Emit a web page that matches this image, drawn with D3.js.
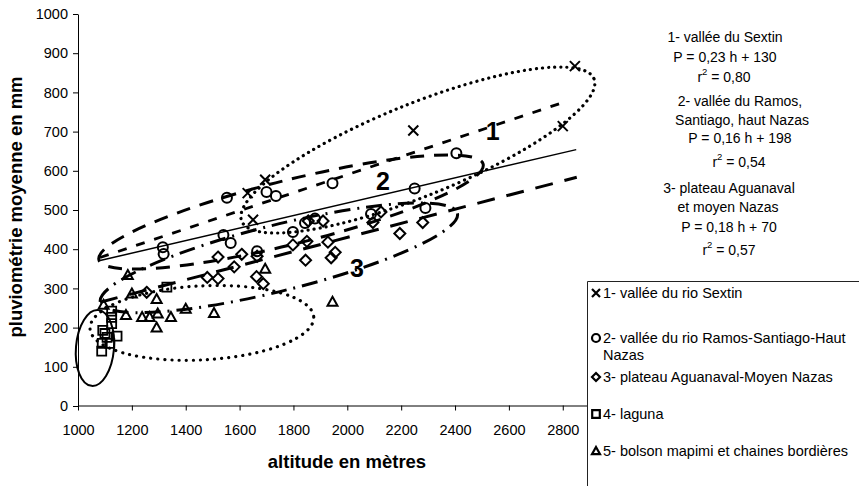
<!DOCTYPE html>
<html><head><meta charset="utf-8">
<script src="https://cdn.jsdelivr.net/npm/d3@7"></script>
<style>
body{margin:0;background:#fff}
svg{display:block}
text{font-family:"Liberation Sans",Arial,sans-serif;fill:#000}
</style>
</head><body>
<svg id="c" width="859" height="486"></svg>
<script>
// ---------- data ----------
const xTicks = [1000,1200,1400,1600,1800,2000,2200,2400,2600,2800];
const yTicks = [0,100,200,300,400,500,600,700,800,900,1000];

const sextinX = [1630,1650,1695,2245,2800,2845];
const sextinY = [543,475,577,703,714,867];

const ramosX = [1315,1318,1540,1567,1553,1700,1735,1665,1798,1843,1880,1945,2088,2250,2290,2405];
const ramosY = [405,388,436,416,531,546,536,395,444,467,478,568,490,555,505,645];

const aguaX = [1255,1480,1520,1520,1580,1608,1665,1663,1688,1798,1845,1850,1855,1910,1928,1940,1955,2095,2125,2195,2280];
const aguaY = [290,328,325,380,355,387,382,330,312,411,372,420,472,472,418,378,392,468,495,440,468];

const lagunaX = [1088,1090,1092,1100,1108,1118,1125,1125,1125,1145,1330];
const lagunaY = [140,160,193,185,175,160,210,226,242,178,303];

const bolsonX = [1095,1178,1185,1200,1238,1266,1292,1292,1296,1345,1400,1505,1695,1945];
const bolsonY = [258,232,334,287,227,227,273,200,236,227,248,237,350,266];

const legendLabels = [
  ["1- vallée du rio Sextin"],
  ["2- vallée du rio Ramos-Santiago-Haut","Nazas"],
  ["3- plateau Aguanaval-Moyen Nazas"],
  ["4- laguna"],
  ["5- bolson mapimi et chaines bordières"]
];

// regression equations (from the chart text) and their x extents
const regSlope = [0.23,0.16,0.18];
const regIntercept = [130,198,70];
const regFrom = [1082,1082,1082];
const regTo = [2815,2850,2852];

// annotation block
const noteLines = [
  "1- vallée du Sextin","P = 0,23 h + 130","r2 = 0,80",
  "2- vallée du Ramos,","Santiago, haut Nazas","P = 0,16 h + 198","r2 = 0,54",
  "3- plateau Aguanaval","et moyen  Nazas","P = 0,18 h + 70","r2 = 0,57"
];

// hand-drawn group ellipses: centre in data units
const ellCx = [2262,1791,1746,1063,1460];
const ellCy = [653,495,378,148,212];
const groupNum = ["1","2","3"];
const groupNumX = [2540,2132,2036];
const groupNumY = [679,551,329];

// ---------- drawing ----------
const svg = d3.select("#c");
const x = d3.scaleLinear().domain([1000,2890]).range([78,587]);
const y = d3.scaleLinear().domain([0,1000]).range([406,14]);

// axes
const gx = svg.append("g").attr("transform","translate(0,405.5)")
  .call(d3.axisBottom(x).tickValues(xTicks).tickSize(5).tickSizeOuter(0).tickPadding(14).tickFormat(d3.format("d")));
const gy = svg.append("g").attr("transform","translate(78,0)")
  .call(d3.axisLeft(y).tickValues(yTicks).tickSize(5).tickSizeOuter(0).tickPadding(5).tickFormat(d3.format("d")));
[gx,gy].forEach(g=>{
  g.selectAll("path,line").attr("stroke","#000").attr("stroke-width",1);
  g.selectAll("text").attr("font-size","14.5px").attr("font-family","'Liberation Sans',Arial,sans-serif").attr("fill","#000");
});

// axis titles
svg.append("text").attr("x",347).attr("y",468).attr("text-anchor","middle")
  .attr("font-size","18.5px").attr("font-weight","bold").text("altitude en mètres");
svg.append("text").attr("transform","translate(22,207) rotate(-90)").attr("text-anchor","middle")
  .attr("font-size","18.5px").attr("font-weight","bold").text("pluviométrie moyenne en mm");

// ellipses
const ellSpec = [
  {rx:190, ry:46, rot:-22, dash:"0.1 6", w:3.2, cap:"round"},
  {rx:198, ry:32, rot:-14, dash:"14 10", w:3, cap:"butt"},
  {rx:184, ry:33, rot:-14, dash:"16 7 2 7", w:3, cap:"butt"},
  {rx:19, ry:38, rot:5, dash:null, w:2, cap:"butt"},
  {rx:112, ry:37, rot:-3, dash:"0.1 7", w:3.2, cap:"round"}
];
ellSpec.forEach((s,i)=>{
  const e = svg.append("ellipse")
    .attr("transform",`translate(${x(ellCx[i])},${y(ellCy[i])}) rotate(${s.rot})`)
    .attr("rx",s.rx).attr("ry",s.ry)
    .attr("fill","none").attr("stroke","#000").attr("stroke-width",s.w)
    .attr("stroke-linecap",s.cap);
  if(s.dash) e.attr("stroke-dasharray",s.dash);
});

// regression lines
const regStyle = [
  {dash:"9 10", w:2.8},
  {dash:null, w:1.5},
  {dash:"18 12", w:3}
];
regSlope.forEach((m,i)=>{
  const l = svg.append("line")
    .attr("x1",x(regFrom[i])).attr("y1",y(m*regFrom[i]+regIntercept[i]))
    .attr("x2",x(regTo[i])).attr("y2",y(m*regTo[i]+regIntercept[i]))
    .attr("stroke","#000").attr("stroke-width",regStyle[i].w);
  if(regStyle[i].dash) l.attr("stroke-dasharray",regStyle[i].dash);
});

// group numbers
groupNum.forEach((t,i)=>{
  svg.append("text").attr("x",x(groupNumX[i])).attr("y",y(groupNumY[i]))
    .attr("text-anchor","middle").attr("font-family","'Liberation Serif','Times New Roman',serif")
    .attr("font-weight","bold").attr("font-size","25px").text(t);
});

// marker shapes
const shapes = {
  cross: s=>`M${-s},${-s}L${s},${s}M${-s},${s}L${s},${-s}`,
  circle: s=>`M${s},0A${s},${s} 0 1 1 ${-s},0A${s},${s} 0 1 1 ${s},0Z`,
  diamond: s=>`M0,${-s}L${s},0L0,${s}L${-s},0Z`,
  square: s=>`M${-s},${-s}H${s}V${s}H${-s}Z`,
  triangle: s=>`M0,${-s}L${s},${s*0.8}L${-s},${s*0.8}Z`
};
const series = [
  {xs:sextinX, ys:sextinY, shape:"cross", s:5, w:2},
  {xs:ramosX, ys:ramosY, shape:"circle", s:5, w:2},
  {xs:aguaX, ys:aguaY, shape:"diamond", s:5.5, w:2},
  {xs:lagunaX, ys:lagunaY, shape:"square", s:4.5, w:1.8},
  {xs:bolsonX, ys:bolsonY, shape:"triangle", s:5, w:2}
];
series.forEach(se=>{
  svg.append("g").selectAll("path").data(se.xs.map((v,i)=>[v,se.ys[i]])).join("path")
    .attr("transform",d=>`translate(${x(d[0])},${y(d[1])})`)
    .attr("d",shapes[se.shape](se.s))
    .attr("fill","none").attr("stroke","#000").attr("stroke-width",se.w)
    .attr("stroke-linejoin","miter");
});

// annotation text block
const noteX = [725,725,724,740,742,740,739,729,728,729,729];
const noteY = [42,62,82,106,125,143,167,193,212,232,255];
noteLines.forEach((t,i)=>{
  const tx = svg.append("text").attr("x",noteX[i]).attr("y",noteY[i])
    .attr("text-anchor","middle").attr("font-size","14px");
  if(t.startsWith("r2")){
    tx.append("tspan").text("r");
    tx.append("tspan").attr("font-size","9.5px").attr("dy",-7).text("2");
    tx.append("tspan").attr("dy",7).text(t.slice(2));
  } else tx.text(t);
});

// legend
const lg = svg.append("g");
lg.append("path").attr("d","M587.5,486V281.5H859").attr("fill","none").attr("stroke","#222").attr("stroke-width",1);
const legY = [293,338,377,414,451];
const legTextY = [298,343,382,419,456];
legendLabels.forEach((lines,i)=>{
  const se = series[i];
  lg.append("path").attr("transform",`translate(596,${legY[i]})`)
    .attr("d",shapes[se.shape](se.shape==="square"?3.8:4)).attr("fill","none")
    .attr("stroke","#000").attr("stroke-width",2.2);
  lines.forEach((t,j)=>{
    lg.append("text").attr("x",603).attr("y",legTextY[i]+j*17)
      .attr("font-size","14.5px").text(t);
  });
});
</script>
</body></html>
